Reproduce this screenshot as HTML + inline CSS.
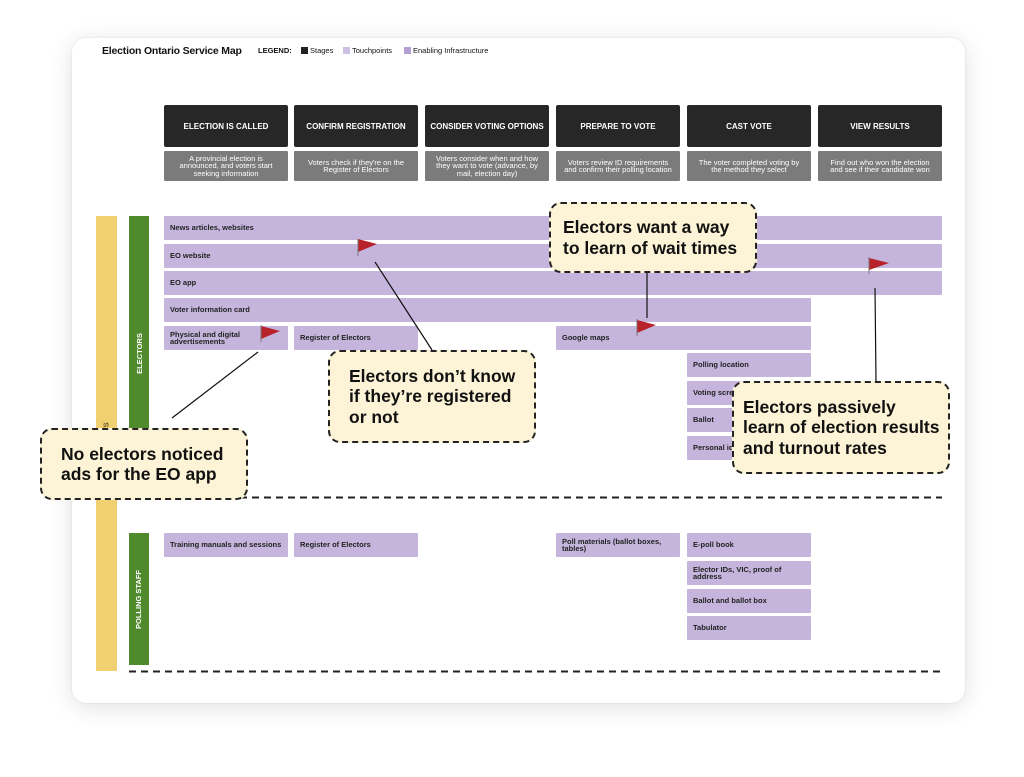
<!DOCTYPE html>
<html><head><meta charset="utf-8"><style>
*{margin:0;padding:0;box-sizing:border-box}
body{width:1024px;height:777px;background:#fff;position:relative;overflow:hidden;font-family:"Liberation Sans",sans-serif}
.card{position:absolute;left:72px;top:38px;width:893px;height:665px;background:#fff;border-radius:14px;box-shadow:0 4px 24px rgba(0,0,0,.12),0 0 2px rgba(0,0,0,.1)}
.a{position:absolute}
.st{position:absolute;background:#272727;color:#fff;font-size:8px;font-weight:bold;display:flex;align-items:center;justify-content:center;text-align:center;border-radius:2px}
.ds{position:absolute;background:#7b7b7b;color:#fff;font-size:7.5px;line-height:7.5px;display:flex;align-items:center;justify-content:center;text-align:center;padding:0 8px;border-radius:1px}
.tp{position:absolute;background:#c5b5dc;color:#222;font-size:7.5px;font-weight:bold;display:flex;align-items:center;padding-left:6px;line-height:7.5px;border-radius:1px}
.co{position:absolute;background:#fdf3d7;border:2px dashed #222;border-radius:12px;font-size:17.5px;font-weight:bold;color:#111;line-height:20.5px;padding:0 0 0 19px;display:flex;align-items:center}
.vb{position:absolute;display:flex;align-items:center;justify-content:center}
.vb span{transform:rotate(-90deg);white-space:nowrap;color:#fff;font-size:7.5px;font-weight:bold}
</style></head><body>
<div class="card"></div>
<div class="a" style="left:102px;top:45px;font-size:10.5px;font-weight:bold;color:#111;letter-spacing:-0.2px">Election Ontario Service Map</div>
<div class="a" style="left:258px;top:46px;font-size:7.5px;font-weight:bold;color:#111">LEGEND:</div>
<div class="a" style="left:301px;top:47px;width:7px;height:7px;background:#222"></div>
<div class="a" style="left:310px;top:46px;font-size:7.5px;color:#111">Stages</div>
<div class="a" style="left:343px;top:47px;width:7px;height:7px;background:#cdbfe3"></div>
<div class="a" style="left:352px;top:46px;font-size:7.5px;color:#111">Touchpoints</div>
<div class="a" style="left:404px;top:47px;width:7px;height:7px;background:#b59fd2"></div>
<div class="a" style="left:413px;top:46px;font-size:7.5px;color:#111">Enabling Infrastructure</div>

<div class="st" style="left:164px;top:105px;width:124px;height:42px">ELECTION IS CALLED</div>
<div class="st" style="left:294px;top:105px;width:124px;height:42px">CONFIRM REGISTRATION</div>
<div class="st" style="left:425px;top:105px;width:124px;height:42px">CONSIDER VOTING OPTIONS</div>
<div class="st" style="left:556px;top:105px;width:124px;height:42px">PREPARE TO VOTE</div>
<div class="st" style="left:687px;top:105px;width:124px;height:42px">CAST VOTE</div>
<div class="st" style="left:818px;top:105px;width:124px;height:42px">VIEW RESULTS</div>
<div class="ds" style="left:164px;top:151px;width:124px;height:30px">A provincial election is announced, and voters start seeking information</div>
<div class="ds" style="left:294px;top:151px;width:124px;height:30px">Voters check if they're on the Register of Electors</div>
<div class="ds" style="left:425px;top:151px;width:124px;height:30px">Voters consider when and how they want to vote (advance, by mail, election day)</div>
<div class="ds" style="left:556px;top:151px;width:124px;height:30px">Voters review ID requirements and confirm their polling location</div>
<div class="ds" style="left:687px;top:151px;width:124px;height:30px">The voter completed voting by the method they select</div>
<div class="ds" style="left:818px;top:151px;width:124px;height:30px">Find out who won the election and see if their candidate won</div>

<div class="vb" style="left:96px;top:216px;width:21px;height:455px;background:#f0d070"><span style="color:#6b5a2a;transform:translateY(6px) rotate(-90deg)">PARTICIPANTS</span></div>
<div class="vb" style="left:129px;top:216px;width:20px;height:280px;background:#4f8a2c;align-items:flex-start;padding-top:133px"><span>ELECTORS</span></div>
<div class="vb" style="left:129px;top:533px;width:20px;height:132px;background:#4f8a2c"><span>POLLING STAFF</span></div>

<div class="tp" style="left:164px;top:216px;width:778px;height:24px">News articles, websites</div>
<div class="tp" style="left:164px;top:244px;width:778px;height:24px">EO website</div>
<div class="tp" style="left:164px;top:271px;width:778px;height:24px">EO app</div>
<div class="tp" style="left:164px;top:298px;width:647px;height:24px">Voter information card</div>
<div class="tp" style="left:164px;top:326px;width:124px;height:24px">Physical and digital<br>advertisements</div>
<div class="tp" style="left:294px;top:326px;width:124px;height:24px">Register of Electors</div>
<div class="tp" style="left:556px;top:326px;width:255px;height:24px">Google maps</div>
<div class="tp" style="left:687px;top:353px;width:124px;height:24px">Polling location</div>
<div class="tp" style="left:687px;top:381px;width:124px;height:24px">Voting screen</div>
<div class="tp" style="left:687px;top:408px;width:124px;height:24px">Ballot</div>
<div class="tp" style="left:687px;top:436px;width:124px;height:24px">Personal id</div>

<div class="tp" style="left:164px;top:533px;width:124px;height:24px">Training manuals and sessions</div>
<div class="tp" style="left:294px;top:533px;width:124px;height:24px">Register of Electors</div>
<div class="tp" style="left:556px;top:533px;width:124px;height:24px">Poll materials (ballot boxes,<br>tables)</div>
<div class="tp" style="left:687px;top:533px;width:124px;height:24px">E-poll book</div>
<div class="tp" style="left:687px;top:561px;width:124px;height:24px">Elector IDs, VIC, proof of<br>address</div>
<div class="tp" style="left:687px;top:589px;width:124px;height:24px">Ballot and ballot box</div>
<div class="tp" style="left:687px;top:616px;width:124px;height:24px">Tabulator</div>

<svg class="a" style="left:0;top:0" width="1024" height="777">
<line x1="180" y1="497.5" x2="942" y2="497.5" stroke="#222" stroke-width="2" stroke-dasharray="7,5"/>
<line x1="129" y1="671.5" x2="942" y2="671.5" stroke="#222" stroke-width="2" stroke-dasharray="7,5"/>
<line x1="375" y1="262" x2="432" y2="350" stroke="#111" stroke-width="1.2"/>
<line x1="258" y1="352" x2="172" y2="418" stroke="#111" stroke-width="1.2"/>
<line x1="647" y1="273" x2="647" y2="318" stroke="#111" stroke-width="1.2"/>
<line x1="875" y1="288" x2="876" y2="381" stroke="#111" stroke-width="1.2"/>
<g fill="#b8222a">
<path d="M358,239 L377,244 L358,252 Z"/><line x1="358" y1="239" x2="358" y2="256" stroke="#777" stroke-width="1"/>
<path d="M261,326 L280,331 L261,339 Z"/><line x1="261" y1="325" x2="261" y2="342" stroke="#777" stroke-width="1"/>
<path d="M637,320 L656,325 L637,333 Z"/><line x1="637" y1="319" x2="637" y2="336" stroke="#777" stroke-width="1"/>
<path d="M869,258 L889,263 L869,270 Z"/><line x1="869" y1="257" x2="869" y2="274" stroke="#777" stroke-width="1"/>
</g>
</svg>

<div class="co" style="left:40px;top:428px;width:208px;height:72px">No electors noticed<br>ads for the EO app</div>
<div class="co" style="left:328px;top:350px;width:208px;height:93px">Electors don’t know<br>if they’re registered<br>or not</div>
<div class="co" style="left:549px;top:202px;width:208px;height:71px;padding-left:12px">Electors want a way<br>to learn of wait times</div>
<div class="co" style="left:732px;top:381px;width:218px;height:93px;padding-left:9px">Electors passively<br>learn of election results<br>and turnout rates</div>
</body></html>
